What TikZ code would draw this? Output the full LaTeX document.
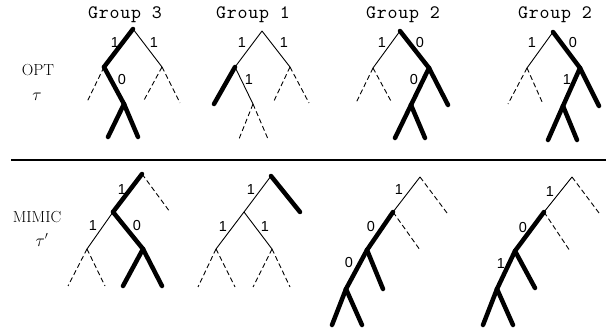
\documentclass[tikz,border=0pt]{standalone}
\usepackage{fontspec}
\newfontfamily\digitfont{Liberation Sans}
\newfontfamily\titlefont{lmmono10-regular.otf}[LetterSpace=4]
\begin{document}
\begin{tikzpicture}[x=1pt,y=-1pt,
  thinedge/.style={line width=0.9pt},
  heavyedge/.style={line width=4.5pt,line cap=round},
  dashedge/.style={line width=0.9pt,dash pattern=on 5pt off 3pt},
  grouptitle/.style={font=\titlefont\fontsize{19}{19}\selectfont,inner sep=0pt},
  bitlabel/.style={font=\digitfont\fontsize{14.5}{14.5}\selectfont,inner sep=0pt},
  rowlabel/.style={font=\fontsize{16}{16}\selectfont,inner sep=0pt}]
\useasboundingbox (0,0) rectangle (607,328);

% row labels
\node[rowlabel] (opt) at (38,70) {OPT};
\node[rowlabel] (tau) at (37,97) {$\tau$};
\node[rowlabel] (mimic) at (37,217) {MIMIC};
\node[rowlabel] (taup) at (42,240) {$\tau'$};

% separator
\coordinate (sepL) at (11,160);
\coordinate (sepR) at (606,160);
\draw[line width=2.5pt] (sepL) -- (sepR);

% ---------- upper row ----------
% tree A
\node[grouptitle] (tA) at (125,15) {Group 3};
\coordinate (a0) at (133,29);  \coordinate (a1) at (104,67);  \coordinate (a2) at (162,67);
\coordinate (a3) at (87,102);  \coordinate (a4) at (124,104); \coordinate (a5) at (143,102);
\coordinate (a6) at (180,103); \coordinate (a7) at (108,137); \coordinate (a8) at (138,137);
\draw[heavyedge] (a0) -- (a1);
\draw[thinedge] (a0) -- (a2);
\draw[dashedge] (a1) -- (a3);
\draw[heavyedge] (a1) -- (a4);
\draw[dashedge] (a2) -- (a5);
\draw[dashedge] (a2) -- (a6);
\draw[heavyedge] (a4) -- (a7);
\draw[heavyedge] (a4) -- (a8);
\node[bitlabel] (la1) at (115,43) {1};
\node[bitlabel] (la2) at (154,43) {1};
\node[bitlabel] (la3) at (122,80) {0};

% tree B
\node[grouptitle] (tB) at (253,15) {Group 1};
\coordinate (b0) at (262,31);  \coordinate (b1) at (235,67);  \coordinate (b2) at (290,67);
\coordinate (b3) at (214,104); \coordinate (b4) at (253,104); \coordinate (b5) at (239,139);
\coordinate (b6) at (268,139); \coordinate (b7) at (273,103); \coordinate (b8) at (309,103);
\draw[thinedge] (b0) -- (b1);
\draw[thinedge] (b0) -- (b2);
\draw[heavyedge] (b1) -- (b3);
\draw[thinedge] (b1) -- (b4);
\draw[dashedge] (b4) -- (b5);
\draw[dashedge] (b4) -- (b6);
\draw[dashedge] (b2) -- (b7);
\draw[dashedge] (b2) -- (b8);
\node[bitlabel] (lb1) at (242,43) {1};
\node[bitlabel] (lb2) at (284,43) {1};
\node[bitlabel] (lb3) at (249,80) {1};

% tree C
\node[grouptitle] (tC) at (403,15) {Group 2};
\coordinate (c0) at (400,31);  \coordinate (c1) at (373,68);  \coordinate (c2) at (429,68);
\coordinate (c3) at (356,103); \coordinate (c4) at (392,103); \coordinate (c5) at (411,105);
\coordinate (c6) at (448,105); \coordinate (c7) at (395,138); \coordinate (c8) at (425,138);
\draw[thinedge] (c0) -- (c1);
\draw[heavyedge] (c0) -- (c2);
\draw[dashedge] (c1) -- (c3);
\draw[dashedge] (c1) -- (c4);
\draw[heavyedge] (c2) -- (c5);
\draw[heavyedge] (c2) -- (c6);
\draw[heavyedge] (c5) -- (c7);
\draw[heavyedge] (c5) -- (c8);
\node[bitlabel] (lc1) at (382,43) {1};
\node[bitlabel] (lc2) at (420,43) {0};
\node[bitlabel] (lc3) at (414,80) {0};

% tree D
\node[grouptitle] (tD) at (555,15) {Group 2};
\coordinate (d0) at (553,32);  \coordinate (d1) at (527,68);  \coordinate (d2) at (580,68);
\coordinate (d3) at (508,104); \coordinate (d4) at (543,104); \coordinate (d5) at (563,106);
\coordinate (d6) at (599,106); \coordinate (d7) at (548,140); \coordinate (d8) at (577,140);
\draw[thinedge] (d0) -- (d1);
\draw[heavyedge] (d0) -- (d2);
\draw[dashedge] (d1) -- (d3);
\draw[dashedge] (d1) -- (d4);
\draw[heavyedge] (d2) -- (d5);
\draw[heavyedge] (d2) -- (d6);
\draw[heavyedge] (d5) -- (d7);
\draw[heavyedge] (d5) -- (d8);
\node[bitlabel] (ld1) at (532,43) {1};
\node[bitlabel] (ld2) at (573,43) {0};
\node[bitlabel] (ld3) at (567,80) {1};

% ---------- lower row ----------
% tree E
\coordinate (e0) at (142,174); \coordinate (e1) at (113,212); \coordinate (e2) at (170,212);
\coordinate (e3) at (87,249);  \coordinate (e4) at (143,249); \coordinate (e5) at (68,286);
\coordinate (e6) at (105,286); \coordinate (e7) at (123,286); \coordinate (e8) at (162,286);
\draw[heavyedge] (e0) -- (e1);
\draw[dashedge] (e0) -- (e2);
\draw[thinedge] (e1) -- (e3);
\draw[heavyedge] (e1) -- (e4);
\draw[dashedge] (e3) -- (e5);
\draw[dashedge] (e3) -- (e6);
\draw[heavyedge] (e4) -- (e7);
\draw[heavyedge] (e4) -- (e8);
\node[bitlabel] (le1) at (122,190) {1};
\node[bitlabel] (le2) at (93,226) {1};
\node[bitlabel] (le3) at (137,226) {0};

% tree F
\coordinate (f0) at (271,176); \coordinate (f1) at (244,212); \coordinate (f2) at (300,212);
\coordinate (f3) at (216,249); \coordinate (f4) at (272,249); \coordinate (f5) at (198,287);
\coordinate (f6) at (235,287); \coordinate (f7) at (253,287); \coordinate (f8) at (290,287);
\draw[thinedge] (f0) -- (f1);
\draw[heavyedge] (f0) -- (f2);
\draw[thinedge] (f1) -- (f3);
\draw[thinedge] (f1) -- (f4);
\draw[dashedge] (f3) -- (f5);
\draw[dashedge] (f3) -- (f6);
\draw[dashedge] (f4) -- (f7);
\draw[dashedge] (f4) -- (f8);
\node[bitlabel] (lf1) at (251,190) {1};
\node[bitlabel] (lf2) at (223,227) {1};
\node[bitlabel] (lf3) at (265,227) {1};

% tree G
\coordinate (g0) at (420,177); \coordinate (g1) at (393,212); \coordinate (g2) at (447,213);
\coordinate (g3) at (367,250); \coordinate (g4) at (420,250); \coordinate (g5) at (346,289);
\coordinate (g6) at (383,289); \coordinate (g7) at (332,325); \coordinate (g8) at (362,325);
\draw[thinedge] (g0) -- (g1);
\draw[dashedge] (g0) -- (g2);
\draw[heavyedge] (g1) -- (g3);
\draw[dashedge] (g1) -- (g4);
\draw[heavyedge] (g3) -- (g5);
\draw[heavyedge] (g3) -- (g6);
\draw[heavyedge] (g5) -- (g7);
\draw[heavyedge] (g5) -- (g8);
\node[bitlabel] (lg1) at (399,190) {1};
\node[bitlabel] (lg2) at (371,227) {0};
\node[bitlabel] (lg3) at (349,263) {0};

% tree H
\coordinate (h0) at (572,177); \coordinate (h1) at (544,212); \coordinate (h2) at (599,213);
\coordinate (h3) at (515,251); \coordinate (h4) at (570,251); \coordinate (h5) at (497,289);
\coordinate (h6) at (535,288); \coordinate (h7) at (483,325); \coordinate (h8) at (513,325);
\draw[thinedge] (h0) -- (h1);
\draw[dashedge] (h0) -- (h2);
\draw[heavyedge] (h1) -- (h3);
\draw[dashedge] (h1) -- (h4);
\draw[heavyedge] (h3) -- (h5);
\draw[heavyedge] (h3) -- (h6);
\draw[heavyedge] (h5) -- (h7);
\draw[heavyedge] (h5) -- (h8);
\node[bitlabel] (lh1) at (550,192) {1};
\node[bitlabel] (lh2) at (523,228) {0};
\node[bitlabel] (lh3) at (501,264) {1};
\end{tikzpicture}
\end{document}
